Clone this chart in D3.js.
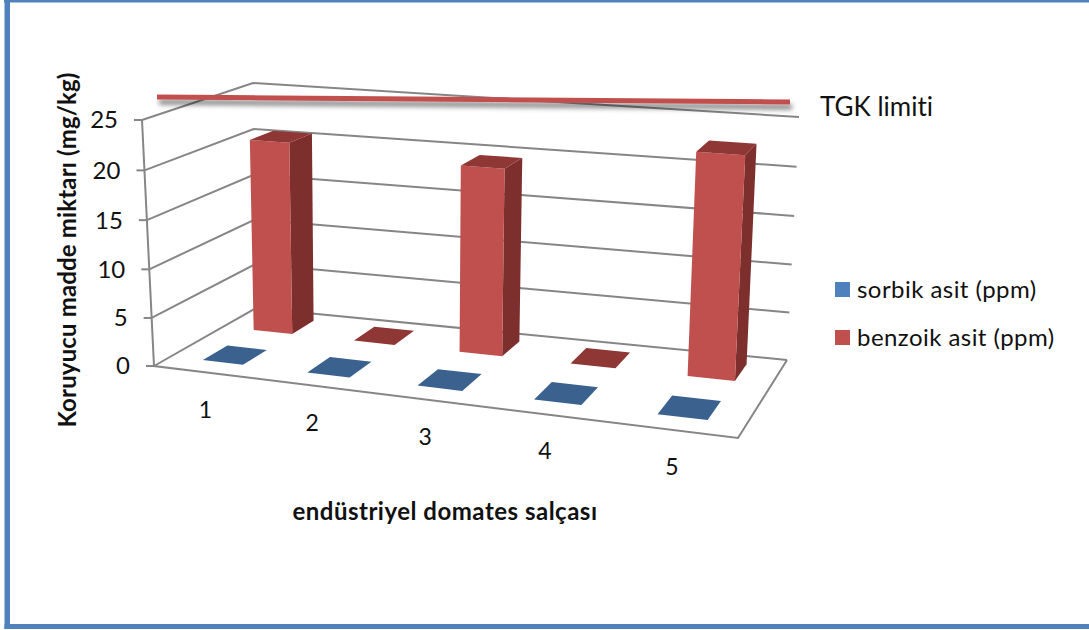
<!DOCTYPE html>
<html>
<head>
<meta charset="utf-8">
<script src="https://cdn.jsdelivr.net/npm/d3@7"></script>
<style>
html,body{margin:0;padding:0;background:#fff;}
svg{display:block;}
text{font-family:Lato,"Open Sans",sans-serif;fill:#111;font-variant-ligatures:none;}
</style>
</head>
<body>
<svg id="chart" width="1089" height="630"></svg>
<script>
const categories = ["1", "2", "3", "4", "5"];
const seriesNames = ["sorbik asit (ppm)", "benzoik asit (ppm)"];
const sorbikValues = [0, 0, 0, 0, 0];
const benzoikValues = [20.5, 0, 19.5, 0, 22.6];
const valueTicks = [0, 5, 10, 15, 20, 25];
const limitLabel = "TGK limiti";
const yTitle = "Koruyucu madde miktarı (mg/kg)";
const xTitle = "endüstriyel domates salçası";

const seriesValues = [sorbikValues, benzoikValues];
const frontColors = ["#4F81BD", "#C0504D"];
const sideColors = ["#2F4D71", "#7D2F2D"];
const topColors = ["#3B618F", "#8F3735"];
const gridColor = "#868686";

const svg = d3.select("#chart");

// Plot box: floor and ceiling quads, ordered front-left, front-right, back-right, back-left.
const floorQuad = [[154, 366], [738, 438], [787, 360], [256, 308]];
const ceilingQuad = [[142, 120], [752, 168], [799, 117], [253, 83]];

// Projective map from the unit square onto a quad.
function quadMap(q) {
  const [[x0, y0], [x1, y1], [x2, y2], [x3, y3]] = q;
  const dx1 = x1 - x2, dx2 = x3 - x2, sx = x0 - x1 + x2 - x3;
  const dy1 = y1 - y2, dy2 = y3 - y2, sy = y0 - y1 + y2 - y3;
  const den = dx1 * dy2 - dx2 * dy1;
  const g = (sx * dy2 - dx2 * sy) / den, h = (dx1 * sy - sx * dy1) / den;
  const a = x1 - x0 + g * x1, b = x3 - x0 + h * x3;
  const d = y1 - y0 + g * y1, e = y3 - y0 + h * y3;
  return (u, v) => {
    const w = g * u + h * v + 1;
    return [(a * u + b * v + x0) / w, (d * u + e * v + y0) / w];
  };
}
const floorMap = quadMap(floorQuad), ceilingMap = quadMap(ceilingQuad);

// Scales run along the three edges of the box, each normalised to 0..1.
const xScale = d3.scaleBand().domain(categories).range([0.002, 1.002]).paddingInner(0.61).paddingOuter(0.305);
const depthScale = d3.scaleBand().domain(seriesNames).range([0.02, 1.02]).paddingInner(0.53).paddingOuter(0.265);
const zScale = d3.scaleLinear().domain([0, 25]).range([0, 1]);

// Height foreshortens slightly toward the floor, since the view looks down on the box.
const heightFraction = value => {
  const t = zScale(value);
  return t / (1 + 0.03 * (1 - t));
};
// Widthwise the near-right end is evened out a little against the pure quad map.
const widthFraction = u => u * 1.055 / (1 + 0.055 * u);

function project(u, v, value) {
  const t = heightFraction(value), w = widthFraction(u);
  const a = floorMap(w, v), b = ceilingMap(w, v);
  return [a[0] + (b[0] - a[0]) * t, a[1] + (b[1] - a[1]) * t];
}
const pathOf = pts => d3.line()(pts) + "Z";

// Walls and floor
const grid = svg.append("g").attr("fill", "none").attr("stroke", gridColor).attr("stroke-width", 2);
valueTicks.forEach(t => {
  grid.append("path").attr("d", d3.line()([project(0, 0, t), project(0, 1, t), project(1, 1, t)]));
  const p = project(0, 0, t);
  grid.append("path").attr("d", d3.line()([[p[0] - 8, p[1]], p]));
  svg.append("text").attr("x", p[0] - 24).attr("y", p[1]).attr("dy", "0.35em")
    .attr("text-anchor", "end").attr("font-size", 24).text(t);
});
grid.append("path").attr("d", d3.line()([project(0, 0, 25), project(0, 0, 0), project(1, 0, 0), project(1, 1, 0)]));

// Columns, back row first so nearer ones overlap farther ones
const bars = svg.append("g");
[1, 0].forEach(s => {
  const v0 = depthScale(seriesNames[s]), v1 = v0 + depthScale.bandwidth();
  categories.forEach((c, i) => {
    const u0 = xScale(c), u1 = u0 + xScale.bandwidth(), val = seriesValues[s][i];
    const g = bars.append("g");
    g.append("path").attr("fill", sideColors[s])
      .attr("d", pathOf([project(u1, v0, 0), project(u1, v1, 0), project(u1, v1, val), project(u1, v0, val)]));
    g.append("path").attr("fill", frontColors[s])
      .attr("d", pathOf([project(u0, v0, 0), project(u1, v0, 0), project(u1, v0, val), project(u0, v0, val)]));
    g.append("path").attr("fill", topColors[s])
      .attr("d", pathOf([project(u0, v0, val), project(u1, v0, val), project(u1, v1, val), project(u0, v1, val)]));
  });
});

// Category labels along the front edge of the floor
categories.forEach(c => {
  const p = project(xScale(c) + xScale.bandwidth() / 2, 0, 0);
  svg.append("text").attr("x", p[0] - 1).attr("y", p[1] + 37).attr("dy", "0.35em")
    .attr("text-anchor", "middle").attr("font-size", 23).text(c);
});

// Limit line with its soft shadow
const defs = svg.append("defs");
const shadow = defs.append("filter").attr("id", "lineShadow")
  .attr("x", "-5%").attr("y", "-800%").attr("width", "110%").attr("height", "1700%");
shadow.append("feDropShadow").attr("dx", 2).attr("dy", 5).attr("stdDeviation", 2.5)
  .attr("flood-color", "#000").attr("flood-opacity", 0.5);
svg.append("path").attr("d", d3.line()([[157, 97], [790, 102]]))
  .attr("stroke", "#C0504D").attr("stroke-width", 5).attr("fill", "none")
  .attr("filter", "url(#lineShadow)");
svg.append("text").attr("x", 820).attr("y", 107).attr("dy", "0.35em")
  .attr("font-size", 26).text(limitLabel);

// Axis titles
svg.append("text").attr("transform", "translate(68,250) rotate(-90)")
  .attr("text-anchor", "middle").attr("dy", "0.35em")
  .attr("font-size", 24).attr("letter-spacing", 0.15).attr("font-weight", 700).text(yTitle);
svg.append("text").attr("x", 445).attr("y", 512).attr("dy", "0.35em")
  .attr("text-anchor", "middle").attr("font-size", 24).attr("letter-spacing", 0.5).attr("font-weight", 700).text(xTitle);

// Legend
seriesNames.forEach((name, i) => {
  const y = 282 + i * 48;
  svg.append("rect").attr("x", 835).attr("y", y).attr("width", 15).attr("height", 15)
    .attr("fill", frontColors[i]);
  svg.append("text").attr("x", 857).attr("y", y + 7.5).attr("dy", "0.35em")
    .attr("font-size", 24).attr("letter-spacing", 0.45).text(name);
});

// Outer frame: top, left and bottom rules
const frame = svg.append("g").attr("fill", "#4F81BD");
frame.append("rect").attr("x", 4).attr("y", 0).attr("width", 1085).attr("height", 2.5);
frame.append("rect").attr("x", 4.5).attr("y", 0).attr("width", 5.5).attr("height", 629);
frame.append("rect").attr("x", 4.5).attr("y", 624).attr("width", 1084.5).attr("height", 5);
</script>
</body>
</html>
